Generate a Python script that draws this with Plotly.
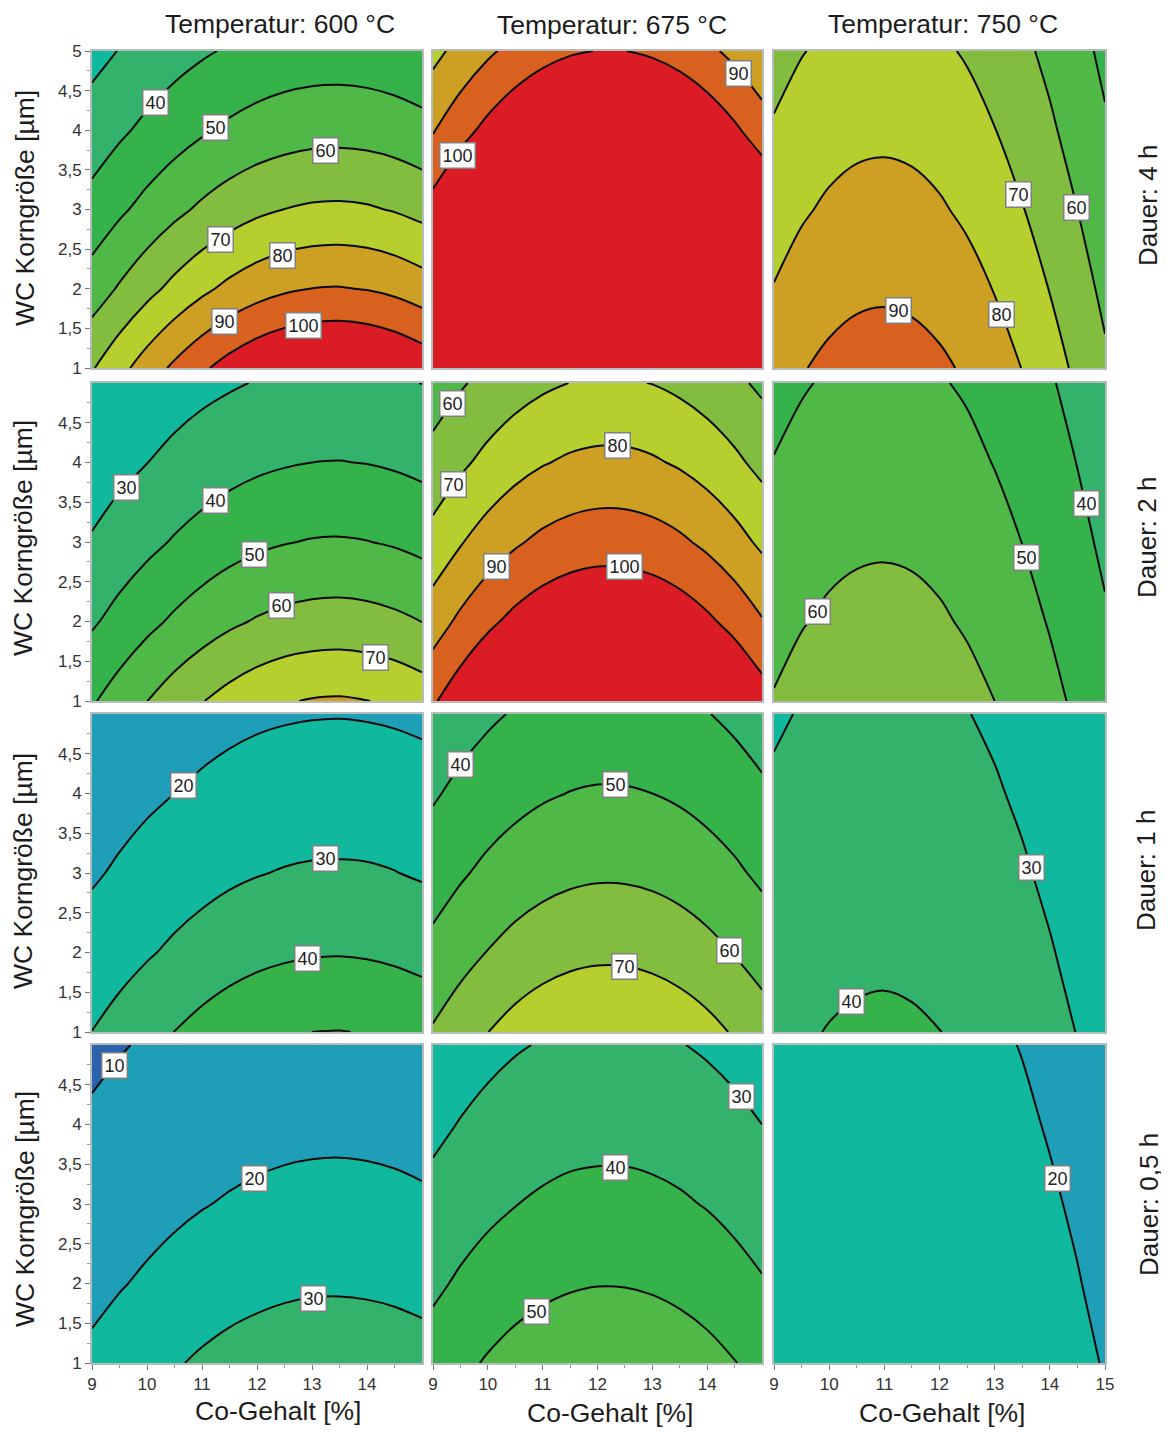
import plotly.graph_objects as go

PAGE_OFFSET = 8
FIG_W, FIG_H = 1169 - PAGE_OFFSET, 1432 - PAGE_OFFSET
FONT = "Liberation Sans"

# ---------- data ----------
co_gehalt = [9, 9.5, 10, 10.5, 11, 11.5, 12, 12.5, 13, 13.5, 14, 14.5, 15]
korngroesse = [1, 2, 3, 4, 5]
temperaturen = ["600 °C", "675 °C", "750 °C"]
dauern = ["4 h", "2 h", "1 h", "0,5 h"]

z_600_4h = [
    [69.2, 77.0, 84.7, 91.9, 98.4, 104.0, 108.5, 111.7, 113.5, 114.0, 113.0, 110.5, 106.8],
    [54.8, 61.0, 67.0, 72.7, 77.9, 82.4, 86.0, 88.6, 90.1, 90.5, 89.6, 87.7, 84.7],
    [43.5, 48.4, 53.1, 57.6, 61.7, 65.2, 68.1, 70.1, 71.3, 71.6, 71.0, 69.4, 67.0],
    [34.5, 38.4, 42.2, 45.7, 48.9, 51.7, 53.9, 55.5, 56.5, 56.7, 56.2, 55.0, 53.1],
    [27.0, 30.3, 33.4, 36.3, 38.8, 41.0, 42.8, 44.1, 44.8, 45.0, 44.6, 43.6, 42.2],
]
z_675_4h = [
    [140.0, 150.8, 160.2, 168.0, 173.9, 177.9, 179.8, 179.6, 177.3, 172.9, 166.6, 158.4, 148.7],
    [120.7, 130.3, 138.7, 145.7, 151.0, 154.6, 156.4, 156.2, 154.1, 150.1, 144.4, 137.1, 128.4],
    [103.8, 112.2, 119.5, 125.7, 130.5, 133.7, 135.3, 135.1, 133.2, 129.7, 124.6, 118.2, 110.6],
    [89.3, 96.4, 102.8, 108.2, 112.4, 115.2, 116.5, 116.4, 114.7, 111.6, 107.2, 101.6, 95.0],
    [77.2, 83.1, 88.4, 93.0, 96.6, 99.0, 100.2, 100.1, 98.6, 96.0, 92.2, 87.4, 81.9],
]
z_750_4h = [
    [85.6, 89.4, 92.1, 93.8, 94.3, 93.6, 91.7, 88.7, 84.7, 79.8, 74.2, 68.1, 61.6],
    [80.4, 84.0, 86.6, 88.2, 88.7, 88.0, 86.2, 83.4, 79.6, 75.0, 69.7, 63.9, 57.9],
    [75.5, 78.9, 81.4, 82.9, 83.3, 82.7, 81.0, 78.3, 74.7, 70.4, 65.4, 60.0, 54.3],
    [70.9, 74.1, 76.5, 77.9, 78.3, 77.7, 76.1, 73.6, 70.2, 66.1, 61.4, 56.3, 51.1],
    [66.6, 69.6, 71.8, 73.2, 73.6, 73.0, 71.5, 69.1, 65.9, 62.0, 57.7, 52.9, 48.0],
]
z_600_2h = [
    [49.0, 54.5, 59.9, 65.0, 69.6, 73.6, 76.9, 79.3, 80.6, 81.0, 80.2, 78.4, 75.7],
    [38.8, 43.2, 47.5, 51.5, 55.1, 58.3, 60.8, 62.6, 63.7, 64.0, 63.4, 62.0, 59.9],
    [30.8, 34.3, 37.6, 40.8, 43.7, 46.2, 48.2, 49.6, 50.5, 50.7, 50.2, 49.1, 47.4],
    [24.9, 27.4, 29.9, 32.4, 34.6, 36.6, 38.2, 39.3, 40.0, 40.2, 39.8, 38.9, 37.6],
    [21.1, 22.5, 24.2, 26.0, 27.7, 29.1, 30.4, 31.3, 31.8, 31.9, 31.6, 30.9, 29.9],
]
z_675_2h = [
    [98.8, 106.2, 112.7, 117.9, 122.0, 124.7, 125.9, 125.8, 124.2, 121.3, 117.0, 111.5, 104.8],
    [85.3, 92.0, 97.9, 102.7, 106.4, 108.9, 110.1, 109.9, 108.5, 105.8, 101.8, 96.8, 90.7],
    [73.4, 79.3, 84.5, 88.8, 92.2, 94.4, 95.5, 95.4, 94.1, 91.6, 88.0, 83.5, 78.2],
    [63.3, 68.2, 72.7, 76.5, 79.4, 81.4, 82.4, 82.3, 81.1, 78.9, 75.8, 71.9, 67.3],
    [54.9, 59.0, 62.7, 65.9, 68.4, 70.1, 70.9, 70.8, 69.8, 67.9, 65.3, 62.0, 58.2],
]
z_750_2h = [
    [60.6, 63.4, 65.4, 66.6, 67.0, 66.5, 65.1, 62.9, 60.0, 56.5, 52.6, 48.3, 43.7],
    [56.9, 59.5, 61.4, 62.5, 62.9, 62.4, 61.1, 59.0, 56.3, 53.1, 49.4, 45.3, 41.0],
    [53.5, 55.9, 57.7, 58.7, 59.0, 58.6, 57.4, 55.5, 52.9, 49.9, 46.4, 42.5, 38.3],
    [50.3, 52.5, 54.2, 55.2, 55.4, 55.0, 53.9, 52.1, 49.7, 46.9, 43.5, 39.8, 35.8],
    [47.2, 49.3, 50.9, 51.8, 52.1, 51.7, 50.6, 49.0, 46.7, 44.0, 40.8, 37.2, 33.2],
]
z_600_1h = [
    [30.1, 33.5, 36.9, 40.1, 43.0, 45.6, 47.6, 49.1, 50.0, 50.2, 49.7, 48.6, 46.9],
    [23.9, 26.5, 29.1, 31.6, 33.9, 35.9, 37.5, 38.6, 39.3, 39.5, 39.1, 38.2, 36.9],
    [19.0, 21.1, 23.2, 25.1, 26.8, 28.4, 29.6, 30.5, 31.0, 31.1, 30.9, 30.2, 29.1],
    [15.1, 16.9, 18.5, 20.0, 21.4, 22.6, 23.5, 24.2, 24.6, 24.7, 24.5, 24.0, 23.2],
    [11.7, 13.2, 14.7, 15.9, 17.0, 18.0, 18.8, 19.3, 19.6, 19.7, 19.5, 19.1, 18.5],
]
z_675_1h = [
    [60.9, 65.6, 69.9, 73.6, 76.4, 78.3, 79.2, 79.1, 78.0, 75.9, 72.9, 69.1, 64.7],
    [52.6, 56.6, 60.3, 63.4, 65.8, 67.4, 68.2, 68.1, 67.1, 65.3, 62.8, 59.6, 55.9],
    [45.4, 48.9, 52.1, 54.7, 56.7, 58.1, 58.8, 58.7, 57.9, 56.4, 54.2, 51.5, 48.2],
    [39.0, 42.2, 44.9, 47.2, 49.0, 50.2, 50.8, 50.7, 50.0, 48.7, 46.8, 44.4, 41.6],
    [33.2, 36.1, 38.6, 40.7, 42.2, 43.3, 43.8, 43.8, 43.1, 42.0, 40.3, 38.1, 35.5],
]
z_750_1h = [
    [37.4, 39.1, 40.3, 41.0, 41.3, 40.9, 40.1, 38.8, 37.0, 34.9, 32.4, 29.8, 27.0],
    [35.1, 36.7, 37.9, 38.6, 38.8, 38.5, 37.7, 36.4, 34.8, 32.8, 30.5, 28.0, 25.5],
    [33.0, 34.5, 35.6, 36.2, 36.4, 36.1, 35.4, 34.2, 32.7, 30.8, 28.6, 26.4, 24.1],
    [31.0, 32.4, 33.4, 34.0, 34.2, 34.0, 33.3, 32.2, 30.7, 28.9, 27.0, 24.9, 22.8],
    [29.1, 30.4, 31.4, 32.0, 32.1, 31.9, 31.2, 30.2, 28.8, 27.2, 25.4, 23.5, 21.6],
]
z_600_05h = [
    [22.0, 24.5, 26.9, 29.2, 31.3, 33.1, 34.5, 35.5, 36.1, 36.2, 35.9, 35.1, 34.0],
    [17.4, 19.4, 21.3, 23.1, 24.8, 26.2, 27.3, 28.2, 28.7, 28.8, 28.5, 27.9, 26.9],
    [13.8, 15.3, 16.8, 18.3, 19.6, 20.7, 21.6, 22.3, 22.7, 22.8, 22.6, 22.1, 21.3],
    [10.9, 12.1, 13.3, 14.5, 15.5, 16.4, 17.1, 17.6, 17.9, 18.0, 17.8, 17.4, 16.8],
    [8.6, 9.6, 10.6, 11.5, 12.3, 13.0, 13.5, 13.9, 14.2, 14.2, 14.1, 13.8, 13.3],
]
z_675_05h = [
    [44.4, 47.8, 50.9, 53.5, 55.5, 56.8, 57.5, 57.4, 56.6, 55.1, 53.0, 50.3, 47.2],
    [38.2, 41.3, 43.9, 46.2, 47.9, 49.1, 49.7, 49.6, 48.9, 47.6, 45.8, 43.4, 40.7],
    [32.8, 35.5, 37.9, 39.8, 41.3, 42.4, 42.8, 42.8, 42.2, 41.1, 39.5, 37.4, 35.0],
    [28.0, 30.4, 32.5, 34.2, 35.6, 36.5, 36.9, 36.9, 36.3, 35.3, 33.9, 32.1, 30.0],
    [23.6, 25.8, 27.7, 29.3, 30.5, 31.3, 31.7, 31.6, 31.2, 30.3, 29.0, 27.4, 25.4],
]
z_750_05h = [
    [27.6, 28.7, 29.5, 29.9, 30.0, 29.8, 29.3, 28.5, 27.4, 25.9, 24.1, 22.0, 19.5],
    [26.1, 27.2, 27.9, 28.4, 28.5, 28.3, 27.8, 27.0, 25.8, 24.4, 22.6, 20.4, 17.9],
    [24.6, 25.6, 26.4, 26.9, 27.0, 26.8, 26.3, 25.5, 24.3, 22.8, 21.0, 18.9, 16.4],
    [23.0, 24.1, 24.9, 25.3, 25.4, 25.3, 24.7, 23.9, 22.7, 21.3, 19.4, 17.3, 14.8],
    [21.4, 22.5, 23.3, 23.8, 23.9, 23.7, 23.2, 22.4, 21.2, 19.7, 17.9, 15.7, 13.1],
]
panels = [
    [z_600_4h, z_675_4h, z_750_4h],
    [z_600_2h, z_675_2h, z_750_2h],
    [z_600_1h, z_675_1h, z_750_1h],
    [z_600_05h, z_675_05h, z_750_05h],
]

# contour labels: (text, Co-Gehalt, Korngroesse) per panel
labels_600_4h = [("40", 10.16, 4.35), ("50", 11.24, 4.04), ("60", 13.25, 3.75), ("70", 11.33, 2.62),
                 ("80", 12.47, 2.42), ("90", 11.4, 1.59), ("100", 12.84, 1.53)]
labels_675_4h = [("100", 9.44, 3.68), ("90", 14.58, 4.72)]
labels_750_4h = [("70", 13.44, 3.19), ("60", 14.49, 3.02), ("80", 13.13, 1.68), ("90", 11.25, 1.72)]
labels_600_2h = [("30", 9.62, 3.68), ("40", 11.24, 3.52), ("50", 11.95, 2.84), ("60", 12.44, 2.2), ("70", 14.16, 1.55)]
labels_675_2h = [("60", 9.35, 4.74), ("70", 9.38, 3.72), ("80", 12.36, 4.21), ("90", 10.15, 2.69), ("100", 12.5, 2.69)]
labels_750_2h = [("40", 14.66, 3.49), ("50", 13.57, 2.81), ("60", 9.78, 2.12)]
labels_600_1h = [("20", 10.67, 4.1), ("30", 13.24, 3.18), ("40", 12.91, 1.92)]
labels_675_1h = [("40", 9.51, 4.36), ("50", 12.32, 4.11), ("60", 14.4, 2.02), ("70", 12.5, 1.83)]
labels_750_1h = [("30", 13.66, 3.07), ("40", 10.41, 1.38)]
labels_600_05h = [("10", 9.4, 4.74), ("20", 11.95, 3.32), ("30", 13.02, 1.81)]
labels_675_05h = [("30", 14.62, 4.35), ("40", 12.32, 3.46), ("50", 10.88, 1.65)]
labels_750_05h = [("20", 14.13, 3.32)]
panel_labels = [
    [labels_600_4h, labels_675_4h, labels_750_4h],
    [labels_600_2h, labels_675_2h, labels_750_2h],
    [labels_600_1h, labels_675_1h, labels_750_1h],
    [labels_600_05h, labels_675_05h, labels_750_05h],
]

x_ticks = [9, 10, 11, 12, 13, 14]
x_ticks_last = [9, 10, 11, 12, 13, 14, 15]
x_minor = [9.5, 10.5, 11.5, 12.5, 13.5, 14.5]
y_ticks = [1, 1.5, 2, 2.5, 3, 3.5, 4, 4.5, 5]
y_ticktext = ["1", "1,5", "2", "2,5", "3", "3,5", "4", "4,5", "5"]
y_ticks_low = [1, 1.5, 2, 2.5, 3, 3.5, 4, 4.5]
y_ticktext_low = ["1", "1,5", "2", "2,5", "3", "3,5", "4", "4,5"]
y_minor = [1.25, 1.75, 2.25, 2.75, 3.25, 3.75, 4.25, 4.75]

band_colors = ["#2b63ae", "#1f9fb7", "#10b89e", "#33b26c", "#35b24a", "#4fb847",
               "#82bd3f", "#b7cf2e", "#cd9f23", "#d8611f", "#db1c24"]

# ---------- layout geometry (pixels in the 1169x1432 window) ----------
col_px = [(92, 422), (433, 762), (774, 1105)]
row_px = [(51, 368), (383, 701), (714, 1032), (1045, 1363)]
xtitle_px = [(278, 1411), (610, 1413), (942, 1413)]
ttl_px = [(280, 24), (612, 25), (943, 24)]
ytitle_px = [(25, 208), (23, 538), (23, 871), (25, 1209)]
rtitle_px = [(1148, 206), (1147, 538), (1146, 871), (1149, 1205)]


def px(x):
    return (x - PAGE_OFFSET) / FIG_W


def py(y):
    return 1 - (y - PAGE_OFFSET) / FIG_H


n = len(band_colors)
scale = []
for i, c in enumerate(band_colors):
    scale += [[i / n, c], [(i + 1) / n, c]]

fig = go.Figure()
layout = {}
annotations = []
AX = "#b4bcbc"
TICK = dict(family=FONT, size=17, color="#333333")

for r, row in enumerate(panels):
    for c, z in enumerate(row):
        idx = r * 3 + c + 1
        suffix = "" if idx == 1 else str(idx)
        fig.add_trace(go.Contour(
            x=co_gehalt, y=korngroesse, z=z, xaxis="x" + suffix, yaxis="y" + suffix,
            autocontour=False, contours=dict(start=10, end=100, size=10, coloring="fill", showlines=True),
            colorscale=scale, showscale=False, hoverinfo="skip",
            line=dict(color="#0a0a0a", width=2, smoothing=1.0),
        ))
        bottom = r == 3
        left = c == 0
        xv = x_ticks_last if c == 2 else x_ticks
        layout["xaxis" + suffix] = dict(
            domain=[px(col_px[c][0]), px(col_px[c][1])], range=[9, 15], anchor="y" + suffix,
            showgrid=False, zeroline=False, linecolor=AX, linewidth=2, mirror=True,
            tickmode="array", tickvals=xv if bottom else [], ticktext=[str(v) for v in xv] if bottom else [],
            ticks="outside" if bottom else "", ticklen=5, tickcolor="#777777", tickfont=TICK,
            showticklabels=bottom,
            minor=dict(tickmode="array", tickvals=x_minor if bottom else [], ticks="outside" if bottom else "",
                       ticklen=3, tickcolor="#999999"),
        )
        yv = y_ticks if r == 0 else y_ticks_low
        yt = y_ticktext if r == 0 else y_ticktext_low
        layout["yaxis" + suffix] = dict(
            domain=[py(row_px[r][1]), py(row_px[r][0])], range=[1, 5], anchor="x" + suffix,
            showgrid=False, zeroline=False, linecolor=AX, linewidth=2, mirror=True,
            tickmode="array", tickvals=yv if left else [], ticktext=yt if left else [],
            ticks="outside" if left else "", ticklen=5, tickcolor="#777777", tickfont=TICK,
            showticklabels=left,
            minor=dict(tickmode="array", tickvals=y_minor if left else [], ticks="outside" if left else "",
                       ticklen=3, tickcolor="#999999"),
        )
        for text, lx, ly in panel_labels[r][c]:
            annotations.append(dict(
                text=text, x=lx, y=ly, xref="x" + suffix, yref="y" + suffix, showarrow=False,
                bgcolor="white", bordercolor="#808080", borderwidth=1.5, borderpad=2,
                font=dict(family=FONT, size=18, color="#222222"),
            ))


def text_at(text, pos, size, angle=0):
    annotations.append(dict(
        text=text, x=px(pos[0]), y=py(pos[1]), xref="paper", yref="paper", showarrow=False,
        xanchor="center", yanchor="middle", textangle=angle,
        font=dict(family=FONT, size=size, color="#1c1c1c"),
    ))


for i, t in enumerate(temperaturen):
    text_at("Temperatur: " + t, ttl_px[i], 26.5)
for i in range(3):
    text_at("Co-Gehalt [%]", xtitle_px[i], 26.5)
for i, d in enumerate(dauern):
    text_at("WC Korngröße [µm]", ytitle_px[i], 26.5, -90)
    text_at("Dauer: " + d, rtitle_px[i], 26, -90)

fig.update_layout(
    width=FIG_W, height=FIG_H, margin=dict(l=0, r=0, t=0, b=0, autoexpand=False), autosize=False,
    paper_bgcolor="white", plot_bgcolor="white", showlegend=False,
    annotations=annotations, **layout,
)
fig.write_html("out.html")
